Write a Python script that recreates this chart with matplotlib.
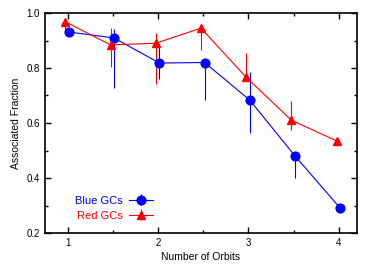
import matplotlib
matplotlib.use("Agg")
import matplotlib.pyplot as plt
import numpy as np
from matplotlib.ticker import MultipleLocator

plt.rcParams['font.family'] = ['Liberation Sans', 'DejaVu Sans']

orbits = [1, 1.5, 2, 2.5, 3, 3.5, 4]
blue_frac = [0.931, 0.909, 0.818, 0.820, 0.683, 0.480, 0.290]
blue_lo = [0.005, 0.182, 0.058, 0.137, 0.119, 0.080, 0.005]
blue_hi = [0.005, 0.033, 0.069, 0.005, 0.102, 0.014, 0.005]
red_frac = [0.968, 0.884, 0.890, 0.945, 0.766, 0.610, 0.535]
red_lo = [0.044, 0.080, 0.148, 0.080, 0.010, 0.035, 0.005]
red_hi = [0.007, 0.061, 0.037, 0.011, 0.089, 0.070, 0.005]

blue_x = np.array(orbits) + 0.015
red_x = np.array(orbits) - 0.025

fig = plt.figure(figsize=(3.82, 2.67), dpi=100)
ax = fig.add_axes([45/382, 1-233/267, (357-45)/382, (233-13)/267])

ax.errorbar(blue_x, blue_frac, yerr=[blue_lo, blue_hi], color='#0000ff',
            marker='o', markersize=6.3, lw=0.8, elinewidth=0.8, capsize=0,
            label='Blue GCs')
ax.errorbar(red_x, red_frac, yerr=[red_lo, red_hi], color='#ff0000',
            marker='^', markersize=6.3, lw=0.8, elinewidth=0.8, capsize=0,
            label='Red GCs')

ax.set_xlim(0.75, 4.2)
ax.set_ylim(0.2, 1.0)
ax.xaxis.set_major_locator(MultipleLocator(1))
ax.xaxis.set_minor_locator(MultipleLocator(0.5))
ax.yaxis.set_major_locator(MultipleLocator(0.2))
ax.yaxis.set_minor_locator(MultipleLocator(0.1))
ax.tick_params(which='both', direction='in', top=True, right=True, labelsize=7, width=1)
ax.tick_params(which='major', length=4)
ax.tick_params(which='minor', length=2)
for s in ax.spines.values():
    s.set_linewidth(1.2)

ax.set_xlabel('Number of Orbits', fontsize=7.5, labelpad=3)
ax.set_ylabel('Associated Fraction', fontsize=7.5, labelpad=4)

leg = ax.legend(loc='lower left', bbox_to_anchor=(0.065, 0.01), markerfirst=False,
                frameon=False, fontsize=8, handlelength=2.2, labelspacing=0.45,
                handletextpad=0.5)
for t, c in zip(leg.get_texts(), ['#0000ff', '#ff0000']):
    t.set_color(c)

fig.savefig('out.png', dpi=100)
